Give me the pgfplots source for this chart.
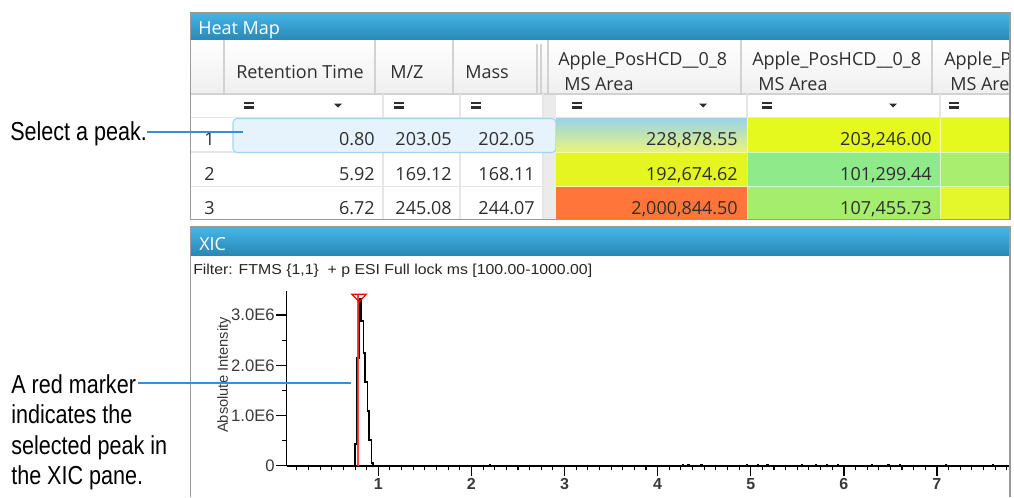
\documentclass[border=0pt]{standalone}
\usepackage{fontspec}
\usepackage{pgfplots}
\usepackage{pgfplotstable}
\pgfplotsset{compat=1.18}
\setmainfont{Liberation Sans}
\newfontfamily\uifont{Open Sans}
\newfontfamily\notefont[FakeStretch=0.83]{Liberation Sans}
\newfontfamily\filterfont[FakeStretch=1.1]{Liberation Sans}
\newfontfamily\tickfont{Liberation Sans}
\definecolor{titletop}{HTML}{45B6E8}
\definecolor{titlebot}{HTML}{2A88B5}
\definecolor{hdrbot}{HTML}{EFEFEF}
\definecolor{divider}{HTML}{D2D2D2}
\definecolor{rowline}{HTML}{E6E6E6}
\definecolor{stripgray}{HTML}{EBEBEB}
\definecolor{paneborder}{HTML}{9A9A9A}
\definecolor{uitxt}{HTML}{2E2E2E}
\definecolor{selfill}{HTML}{E6F3FC}
\definecolor{selborder}{HTML}{A3D5F3}
\definecolor{hAtop}{HTML}{98D3EA}
\definecolor{hAbot}{HTML}{EAF47A}
\definecolor{hYel}{HTML}{E6F91F}
\definecolor{hYelB}{HTML}{E4F521}
\definecolor{hGrn}{HTML}{8FEA8A}
\definecolor{hLgrn}{HTML}{AAEE6E}
\definecolor{hOrg}{HTML}{FF753A}
\definecolor{hGrn2}{HTML}{A5ED6C}
\definecolor{hYel2}{HTML}{E3F72A}
\definecolor{callout}{HTML}{3A8DD8}
\definecolor{ticktxt}{HTML}{3A3A3A}
\definecolor{redline}{HTML}{FF3030}

% XIC trace, drawn as a step line (value jumps at each x)
\pgfplotstableread{
x y
0.016 0
0.750 430000
0.768 2140000
0.793 3330000
0.815 2880000
0.839 2240000
0.860 1670000
0.882 1090000
0.903 510000
0.925 50000
0.940 0
2.196 25000
2.204 0
4.266 25000
4.274 0
4.326 25000
4.334 0
4.466 25000
4.474 0
4.956 25000
4.964 0
5.076 25000
5.084 0
5.176 25000
5.184 0
5.546 25000
5.554 0
5.696 25000
5.704 0
5.816 25000
5.824 0
5.936 25000
5.944 0
6.296 25000
6.304 0
6.476 25000
6.484 0
6.596 25000
6.604 0
7.096 25000
7.104 0
7.596 25000
7.604 0
7.774 0
}\xicdata

\newcommand{\ui}{\uifont\fontsize{13.5}{16}\selectfont}
\newcommand{\ytl}{\tickfont\fontsize{12.5}{14}\selectfont}
\newcommand{\xtl}{\tickfont\bfseries\fontsize{12}{14}\selectfont}
\newcommand{\eqbar}[1]{\fill[uitxt] (#1-5,101.8) rectangle (#1+5,104.2); \fill[uitxt] (#1-5,106.3) rectangle (#1+5,108.7);}
\newcommand{\dtri}[1]{\fill[uitxt] (#1-4,103.5) -- (#1+4,103.5) -- (#1,107.5) -- cycle;}

\begin{document}
\begin{tikzpicture}
\begin{scope}[x=0.75pt,y=-0.75pt]
\useasboundingbox (0,0) rectangle (1014,497);
\fill[white] (0,0) rectangle (1014,497);
% ---------------- Heat Map pane ----------------
\begin{scope}
\clip (190,12) rectangle (1010,220);
\shade[top color=titletop,bottom color=titlebot] (190,12) rectangle (1010,40);
\shade[top color=white,bottom color=hdrbot] (190,40) rectangle (1010,94);
\fill[white] (190,94) rectangle (1010,219);
\fill[stripgray] (543,94) rectangle (556,219);
\foreach \xx in {224,375,453,548,741,932} \draw[divider,line width=1.1pt] (\xx,40) -- (\xx,94);
\draw[divider,line width=0.8pt] (537,44) -- (537,94) (541,44) -- (541,94);
\draw[divider,line width=0.8pt] (190,94) -- (1010,94);
\draw[rowline,line width=0.8pt] (190,117.5) -- (1010,117.5);
\foreach \xx in {383,460,543} \draw[rowline,line width=0.8pt] (\xx,94) -- (\xx,219);
\foreach \xx in {747,940} \draw[rowline,line width=0.8pt] (\xx,94) -- (\xx,117.5);
\draw[rowline,line width=0.8pt] (190,152) -- (543,152) (190,186.5) -- (543,186.5);
% selection
\draw[draw=selborder,fill=selfill,rounded corners=3pt,line width=0.8pt] (233,118.5) rectangle (556,152.5);
% heat cells
\shade[top color=hAtop,bottom color=hAbot] (556,118) rectangle (747,152);
\fill[hYel] (747,118) rectangle (940,152);
\fill[hYel] (940,118) rectangle (1010,152);
\fill[hYelB] (556,152) rectangle (747,186.5);
\fill[hGrn] (747,152) rectangle (940,186.5);
\fill[hLgrn] (940,152) rectangle (1010,186.5);
\fill[hOrg] (556,186.5) rectangle (747,219);
\fill[hGrn2] (747,186.5) rectangle (940,219);
\fill[hYel2] (940,186.5) rectangle (1010,219);
\draw[white,opacity=0.6,line width=0.6pt] (556,152) -- (1010,152) (556,186.5) -- (1010,186.5) (747,118) -- (747,219) (940,118) -- (940,219);
% title and headers
\node[anchor=base west,inner sep=0,text=white,font=\ui] at (198,34) {Heat Map};
\node[anchor=base west,inner sep=0,text=uitxt,font=\ui] at (236,78) {Retention Time};
\node[anchor=base west,inner sep=0,text=uitxt,font=\ui] at (390,78) {M/Z};
\node[anchor=base west,inner sep=0,text=uitxt,font=\ui] at (465,78) {Mass};
\node[anchor=base west,inner sep=0,text=uitxt,font=\ui] at (558,65) {Apple\_PosHCD\_\_0\_8};
\node[anchor=base west,inner sep=0,text=uitxt,font=\ui] at (564,90) {MS Area};
\node[anchor=base west,inner sep=0,text=uitxt,font=\ui] at (752,65) {Apple\_PosHCD\_\_0\_8};
\node[anchor=base west,inner sep=0,text=uitxt,font=\ui] at (758,90) {MS Area};
\node[anchor=base west,inner sep=0,text=uitxt,font=\ui] at (944,65) {Apple\_PosHCD\_\_0\_8};
\node[anchor=base west,inner sep=0,text=uitxt,font=\ui] at (950,90) {MS Area};
% filter row
\eqbar{249} \dtri{338}
\eqbar{398.5}
\eqbar{475.5}
\eqbar{577} \dtri{703}
\eqbar{767} \dtri{893}
\eqbar{954}
% rows
\node[anchor=base west,inner sep=0,text=uitxt,font=\ui] at (204,145) {1};
\node[anchor=base west,inner sep=0,text=uitxt,font=\ui] at (204,180) {2};
\node[anchor=base west,inner sep=0,text=uitxt,font=\ui] at (204,214) {3};
\node[anchor=base east,inner sep=0,text=uitxt,font=\ui] at (375,145) {0.80};
\node[anchor=base east,inner sep=0,text=uitxt,font=\ui] at (375,180) {5.92};
\node[anchor=base east,inner sep=0,text=uitxt,font=\ui] at (375,214) {6.72};
\node[anchor=base east,inner sep=0,text=uitxt,font=\ui] at (452,145) {203.05};
\node[anchor=base east,inner sep=0,text=uitxt,font=\ui] at (452,180) {169.12};
\node[anchor=base east,inner sep=0,text=uitxt,font=\ui] at (452,214) {245.08};
\node[anchor=base east,inner sep=0,text=uitxt,font=\ui] at (535,145) {202.05};
\node[anchor=base east,inner sep=0,text=uitxt,font=\ui] at (535,180) {168.11};
\node[anchor=base east,inner sep=0,text=uitxt,font=\ui] at (535,214) {244.07};
\node[anchor=base east,inner sep=0,text=uitxt,font=\ui] at (738,145) {228,878.55};
\node[anchor=base east,inner sep=0,text=uitxt,font=\ui] at (738,180) {192,674.62};
\node[anchor=base east,inner sep=0,text=uitxt,font=\ui] at (738,214) {2,000,844.50};
\node[anchor=base east,inner sep=0,text=uitxt,font=\ui] at (932,145) {203,246.00};
\node[anchor=base east,inner sep=0,text=uitxt,font=\ui] at (932,180) {101,299.44};
\node[anchor=base east,inner sep=0,text=uitxt,font=\ui] at (932,214) {107,455.73};
\end{scope}
\draw[paneborder,line width=0.8pt] (190.5,12.5) rectangle (1010,219.5);
% ---------------- XIC pane ----------------
\shade[top color=titletop,bottom color=titlebot] (190.5,227) rectangle (1010,255);
\draw[paneborder,line width=0.8pt] (190.5,497) -- (190.5,226.5) -- (1010,226.5) -- (1010,497);
\node[anchor=base west,inner sep=0,text=white,font=\ui] at (199,250) {XIC};
\node[anchor=base west,inner sep=0,text=black!85,font=\filterfont\fontsize{10.8}{12}\selectfont] at (193,274) {Filter: FTMS \{1,1\}\ \ + p ESI Full lock ms [100.00-1000.00]};
\node[rotate=90,inner sep=0,text=ticktxt,font=\fontsize{11}{12}\selectfont] at (224,375) {Absolute Intensity};
\end{scope}

\begin{axis}[
 at={(215.03pt,-349.28pt)}, anchor=south west,
 scale only axis, width=541.7pt, height=131.4pt,
 xmin=0.016, xmax=7.774, ymin=0, ymax=3.49e6,
 axis x line*=bottom, axis y line*=left,
 x axis line style={line width=1.5pt},
 y axis line style={line width=1.1pt},
 xtick={1,2,3,4,5,6,7},
 xticklabels={{\xtl 1},{\xtl 2},{\xtl 3},{\xtl 4},{\xtl 5},{\xtl 6},{\xtl 7}},
 minor xtick={0.125,0.25,...,7.75},
 ytick={0,1000000,2000000,3000000},
 yticklabels={{\ytl 0},{\ytl 1.0E6},{\ytl 2.0E6},{\ytl 3.0E6}},
 minor ytick={500000,1500000,2500000},
 scaled y ticks=false,
 tick align=outside,
 major tick length=8pt, minor tick length=3.5pt,
 major tick style={line width=1.1pt, black},
 minor tick style={line width=0.8pt, black},
 xticklabel style={text=ticktxt, inner sep=1.5pt},
 yticklabel style={text=ticktxt, inner sep=0.8pt},
 clip=false,
]
\addplot[black, line width=1.2pt, const plot mark left] table[x=x,y=y] {\xicdata};
\addplot[redline, line width=1.6pt, opacity=0.9] coordinates {(0.785,0) (0.785,3.43e6)};
\addplot[only marks, mark=triangle, mark size=6.2pt, mark options={rotate=180, yscale=0.6, draw=red, fill=none, line width=0.9pt}] coordinates {(0.793,3.365e6)};
\end{axis}

\begin{scope}[x=0.75pt,y=-0.75pt]
\draw[callout,line width=1.9pt] (147,132) -- (243,132);
\draw[callout,line width=1.9pt] (138,383) -- (351,383);
\node[anchor=base west,inner sep=0,font=\notefont\fontsize{19.5}{23}\selectfont] at (10,140) {Select a peak.};
\node[anchor=base west,inner sep=0,font=\notefont\fontsize{19.5}{23}\selectfont] at (11,393) {A red marker};
\node[anchor=base west,inner sep=0,font=\notefont\fontsize{19.5}{23}\selectfont] at (11,423) {indicates the};
\node[anchor=base west,inner sep=0,font=\notefont\fontsize{19.5}{23}\selectfont] at (11,454) {selected peak in};
\node[anchor=base west,inner sep=0,font=\notefont\fontsize{19.5}{23}\selectfont] at (11,484) {the XIC pane.};
\end{scope}
\end{tikzpicture}
\end{document}
